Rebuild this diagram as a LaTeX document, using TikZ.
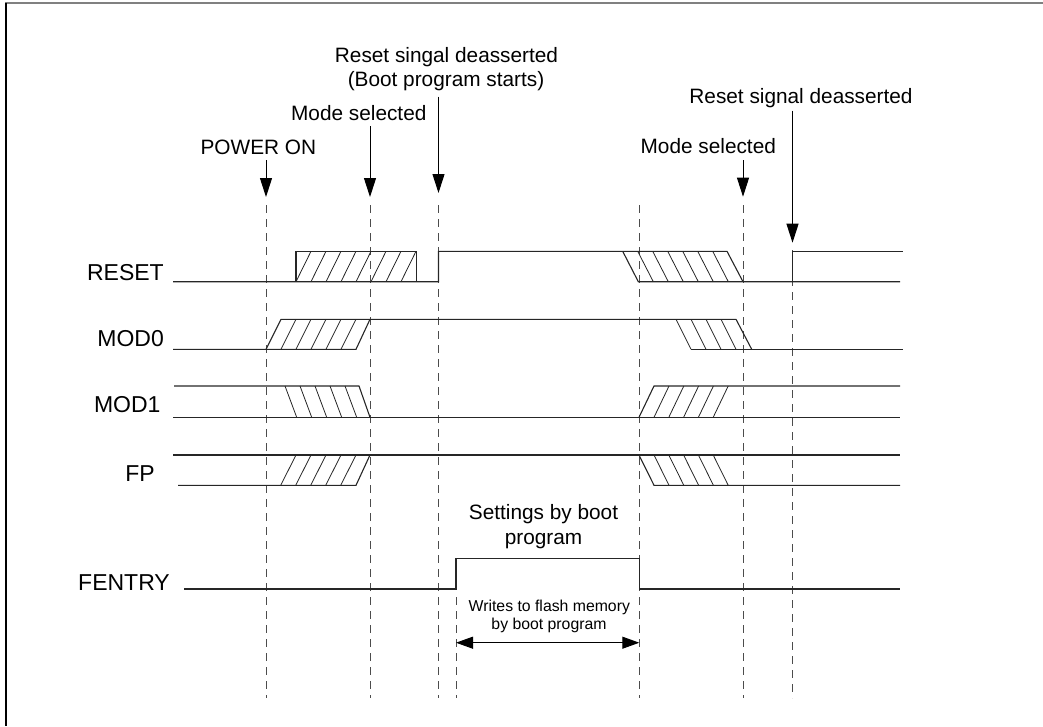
\documentclass[tikz,border=0pt]{standalone}
\usepackage{fontspec}
\setmainfont{Liberation Sans}
\usetikzlibrary{arrows.meta}
\begin{document}
\begin{tikzpicture}[x=1pt,y=-1pt,
  sig/.style={line width=1.1pt, draw=black!85},
  hatch/.style={line width=0.8pt, draw=black!85},
  guide/.style={line width=0.8pt, dash pattern=on 8pt off 6pt, draw=black!70},
  marker/.style={line width=1pt, -{Triangle[length=19pt,width=12pt]}},
  span/.style={line width=1pt, {Triangle[length=17pt,width=12pt]}-{Triangle[length=17pt,width=12pt]}},
  lbl/.style={font=\fontsize{23}{27}\selectfont, anchor=base east, inner sep=0pt},
  note/.style={font=\fontsize{20.8}{25}\selectfont, anchor=base, inner sep=0pt},
  small/.style={font=\fontsize{15.8}{19}\selectfont, anchor=base, inner sep=0pt}]

\useasboundingbox (0,0) rectangle (1043,726);
% frame
\draw[line width=2pt, draw=black!50] (5,2.5) -- (1043,2.5);
\draw[line width=2pt] (5.5,2.5) -- (5.5,726);

% signal labels
\node[lbl] (lReset) at (164,280) {RESET};
\node[lbl] (lMod0) at (164,346.5) {MOD0};
\node[lbl] (lMod1) at (160.7,412.5) {MOD1};
\node[lbl] (lFp) at (155,481) {FP};
\node[lbl] (lFentry) at (170,590.5) {FENTRY};

% event notes
\node[note] (nPower) at (258.4,154) {POWER ON};
\node[note] (nMode1) at (358.8,120.3) {Mode selected};
\node[note] (nRst1a) at (446.5,62.3) {Reset singal deasserted};
\node[note] (nRst1b) at (446,86) {(Boot program starts)};
\node[note] (nRst2) at (801,103.3) {Reset signal deasserted};
\node[note] (nMode2) at (708.3,153.3) {Mode selected};
\node[note] (nSet1) at (543.5,519.5) {Settings by boot};
\node[note] (nSet2) at (543.5,544) {program};
\node[small] (nW1) at (549.3,611.7) {Writes to flash memory};
\node[small] (nW2) at (549,629.3) {by boot program};

% marker arrows
\coordinate (aPowerS) at (266,160);   \coordinate (aPowerE) at (266,197);
\coordinate (aMode1S) at (370,126);   \coordinate (aMode1E) at (370,197);
\coordinate (aRst1S) at (438.5,96.7); \coordinate (aRst1E) at (438.5,193);
\coordinate (aMode2S) at (743,160);   \coordinate (aMode2E) at (743,196.7);
\coordinate (aRst2S) at (792.5,110.7);\coordinate (aRst2E) at (792.5,242.7);
\draw[marker] (aPowerS) -- (aPowerE);
\draw[marker] (aMode1S) -- (aMode1E);
\draw[marker] (aRst1S) -- (aRst1E);
\draw[marker] (aMode2S) -- (aMode2E);
\draw[marker] (aRst2S) -- (aRst2E);

% guide lines
\foreach \x in {266,370,438.5,639,743} \draw[guide] (\x,205) -- (\x,698);
\draw[guide] (792.5,250) -- (792.5,698);
\draw[guide] (456,597) -- (456,698);

% RESET
\draw[sig] (173,281.7) -- (438.5,281.7) -- (438.5,251.3) -- (727,251.3) -- (743,281.7);
\draw[sig] (296,281.7) -- (296,251.3) -- (416.3,251.3) -- (416.3,281.7);
\foreach \k in {0,...,7} \draw[hatch] ({296+15*\k},281.7) -- ({311+15*\k},251.3);
\draw[sig] (622.7,251.3) -- (638.3,281.7) -- (900,281.7);
\foreach \k in {1,...,6} \draw[hatch] ({622.7+15*\k},251.3) -- ({638.3+15*\k},281.7);
\draw[sig] (792.5,281.7) -- (792.5,251.3) -- (902.7,251.3);

% MOD0
\draw[sig] (173,349.3) -- (356,349.3) -- (370,319.3) -- (736,319.3) -- (751.7,349.3);
\draw[sig] (266,349.3) -- (281,319.3) -- (370,319.3);
\foreach \k in {1,...,5} \draw[hatch] ({266+15*\k},349.3) -- ({281+15*\k},319.3);
\draw[sig] (691,349.3) -- (903,349.3);
\foreach \k in {0,...,3} \draw[hatch] ({676+15*\k},319.3) -- ({691+15*\k},349.3);

% MOD1
\draw[sig] (174,386) -- (359,386) -- (370,417.3);
\draw[sig] (173,417.3) -- (900,417.3);
\foreach \k in {0,...,4} \draw[hatch] ({285+15*\k},386) -- ({296.7+15*\k},417.3);
\draw[sig] (639,417.3) -- (654,386) -- (900,386);
\foreach \k in {0,...,4} \draw[hatch] ({654+14.8*\k},417.3) -- ({669+14.8*\k},386);

% FP
\draw[sig] (173,455) -- (900,455);
\draw[sig] (178,485.3) -- (356,485.3) -- (370,455);
\foreach \k in {0,...,4} \draw[hatch] ({280.7+15*\k},485.3) -- ({296+15*\k},455);
\draw[sig] (639,455) -- (654,485.3) -- (900,485.3);
\foreach \k in {0,...,4} \draw[hatch] ({654+14.8*\k},455) -- ({669+14.8*\k},485.3);

% FENTRY
\draw[sig] (184,589) -- (456,589) -- (456,558.7) -- (639.3,558.7) -- (639.3,589) -- (900,589);

% write span
\coordinate (wS) at (456,642.7);
\coordinate (wE) at (639.3,642.7);
\draw[span] (wS) -- (wE);
\end{tikzpicture}
\end{document}
